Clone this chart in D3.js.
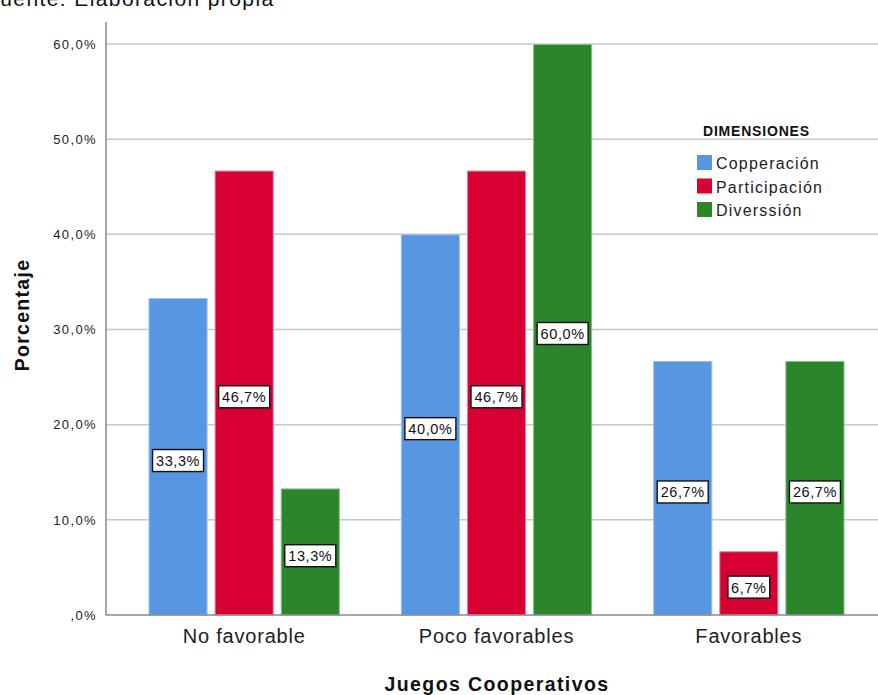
<!DOCTYPE html>
<html>
<head>
<meta charset="utf-8">
<script src="https://cdn.jsdelivr.net/npm/d3@7"></script>
<style>
  html, body { margin: 0; padding: 0; background: #fff; }
  svg { display: block; font-family: "Liberation Sans", Arial, sans-serif; }
</style>
</head>
<body>
<svg id="chart" width="878" height="695"></svg>
<script>
// Categories and series
const categories = ["No favorable", "Poco favorables", "Favorables"];
const seriesNames = ["Copperación", "Participación", "Diverssión"];
const cooperacion = [33.3, 40.0, 26.7];
const participacion = [46.7, 46.7, 6.7];
const diversion = [13.3, 60.0, 26.7];
const seriesColors = ["#5796e1", "#d70032", "#2a852b"];
const seriesStroke = ["#9cc1ee", "#ec7f97", "#8cc08c"];
const yTicks = [0, 10, 20, 30, 40, 50, 60];

const seriesValues = [cooperacion, participacion, diversion];

const svg = d3.select("#chart");
const W = 878, H = 695;
const plot = { left: 106, right: 878, top: 44, bottom: 615 };

const fmt = v => (v === 0 ? ",0%" : d3.format(".1f")(v).replace(".", ",") + "%");

const y = d3.scaleLinear().domain([0, 60]).range([plot.bottom, plot.top]);
const x0 = d3.scaleBand().domain(categories).range([118, 875]).paddingInner(0).paddingOuter(0);
const x1 = d3.scaleBand().domain(seriesNames).range([30.5, x0.bandwidth() - 30.5]).paddingInner(0.106);

// Source note at the top edge
svg.append("text")
  .attr("x", -14).attr("y", 6)
  .attr("font-size", 21).attr("fill", "#111")
  .attr("letter-spacing", 1.4)
  .text("Fuente: Elaboración propia");

// Gridlines
svg.append("g")
  .selectAll("line")
  .data(yTicks.filter(d => d > 0))
  .join("line")
  .attr("x1", plot.left).attr("x2", W)
  .attr("y1", d => y(d)).attr("y2", d => y(d))
  .attr("stroke", "#c8c8c8").attr("stroke-width", 1.5);

// Bars
const groups = svg.append("g")
  .selectAll("g")
  .data(categories)
  .join("g")
  .attr("transform", d => `translate(${x0(d)},0)`);

const barData = (c, ci) => seriesNames.map((s, si) => ({ s, si, v: seriesValues[si][ci] }));

groups.each(function (c, ci) {
  const g = d3.select(this);
  const bars = barData(c, ci);
  g.selectAll("rect.bar")
    .data(bars)
    .join("rect")
    .attr("class", "bar")
    .attr("x", d => x1(d.s) + 0.5)
    .attr("y", d => y(d.v) + 0.5)
    .attr("width", x1.bandwidth() - 1)
    .attr("height", d => y(0) - y(d.v) - 0.5)
    .attr("fill", d => seriesColors[d.si])
    .attr("stroke", d => seriesStroke[d.si])
    .attr("stroke-width", 1);

  // Value labels in boxes at the bar's mid-height
  const lab = g.selectAll("g.lab")
    .data(bars)
    .join("g")
    .attr("class", "lab")
    .attr("transform", d => `translate(${x1(d.s) + x1.bandwidth() / 2},${(y(d.v) + y(0)) / 2 + 4})`);
  lab.each(function (d) {
    const t = fmt(d.v);
    const w = t.length * 9.2 + 5;
    d3.select(this).append("rect")
      .attr("x", -w / 2).attr("y", -11)
      .attr("width", w).attr("height", 22)
      .attr("fill", "#fff").attr("stroke", "#111").attr("stroke-width", 1.4);
    d3.select(this).append("text")
      .attr("text-anchor", "middle").attr("y", 5.5)
      .attr("font-size", 14.5).attr("fill", "#111")
      .attr("letter-spacing", 0.6)
      .text(t);
  });
});

// Axes
const yAxis = svg.append("g")
  .attr("transform", `translate(${plot.left},0)`)
  .call(d3.axisLeft(y).tickValues(yTicks).tickFormat(fmt).tickSize(0).tickPadding(9));
yAxis.select(".domain").remove();
yAxis.selectAll("text").attr("font-size", 13).attr("fill", "#222")
  .attr("letter-spacing", 1.4)
  .attr("font-family", "\"Liberation Sans\", Arial, sans-serif");

svg.append("line")
  .attr("x1", plot.left).attr("x2", plot.left)
  .attr("y1", 22).attr("y2", plot.bottom)
  .attr("stroke", "#8a8a8a").attr("stroke-width", 1.5);

const xAxis = svg.append("g")
  .attr("transform", `translate(0,${plot.bottom})`)
  .call(d3.axisBottom(x0).tickSize(0).tickPadding(14));
xAxis.select(".domain").remove();
xAxis.selectAll("text").attr("font-size", 20).attr("fill", "#222")
  .attr("letter-spacing", 0.8)
  .attr("font-family", "\"Liberation Sans\", Arial, sans-serif");

svg.append("line")
  .attr("x1", plot.left).attr("x2", W)
  .attr("y1", plot.bottom).attr("y2", plot.bottom)
  .attr("stroke", "#8a8a8a").attr("stroke-width", 1.5);

// Axis titles
svg.append("text")
  .attr("x", 497).attr("y", 691)
  .attr("text-anchor", "middle")
  .attr("font-size", 19.5).attr("font-weight", "bold").attr("fill", "#111")
  .attr("letter-spacing", 1.4)
  .text("Juegos Cooperativos");

svg.append("text")
  .attr("transform", `translate(29,315) rotate(-90)`)
  .attr("text-anchor", "middle")
  .attr("font-size", 19.5).attr("font-weight", "bold").attr("fill", "#111")
  .attr("letter-spacing", 1.3)
  .text("Porcentaje");

// Legend
const legend = svg.append("g").attr("transform", "translate(697,0)");
legend.append("text")
  .attr("x", 6).attr("y", 136)
  .attr("font-size", 14).attr("font-weight", "bold").attr("fill", "#111")
  .attr("letter-spacing", 0.8)
  .text("DIMENSIONES");
const items = legend.selectAll("g.item")
  .data(seriesNames)
  .join("g")
  .attr("class", "item")
  .attr("transform", (d, i) => `translate(0,${155 + i * 23.5})`);
items.append("rect")
  .attr("width", 15).attr("height", 15)
  .attr("fill", (d, i) => seriesColors[i]);
items.append("text")
  .attr("x", 19).attr("y", 14)
  .attr("font-size", 16).attr("fill", "#222")
  .attr("letter-spacing", 1.2)
  .text(d => d);
</script>
</body>
</html>
